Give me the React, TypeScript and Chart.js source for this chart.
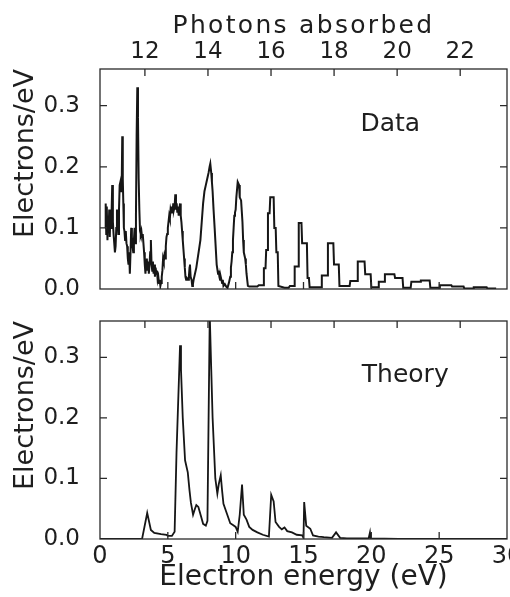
import React, { useEffect, useRef } from 'react';
import { Chart, registerables } from 'chart.js';

Chart.register(...registerables);

// ---- Data panel (measured spectrum) : electron energy (eV) / electrons per eV
const dataEnergy = [
  0.37, 0.42, 0.46, 0.5, 0.55, 0.6, 0.64, 0.68, 0.72, 0.77, 0.82, 0.86, 0.9, 0.95, 1.0, 1.05, 1.1, 1.15, 1.2, 1.25,
  1.3, 1.35, 1.4, 1.45, 1.5, 1.55, 1.6, 1.64, 1.68, 1.72, 1.76, 1.8, 1.85, 1.9, 1.95, 2.0, 2.05, 2.1, 2.15, 2.2,
  2.25, 2.3, 2.35, 2.4, 2.45, 2.5, 2.55, 2.6, 2.65, 2.7, 2.75, 2.8, 2.85, 2.9, 2.95, 3.0, 3.05, 3.1, 3.15, 3.2,
  3.25, 3.3, 3.35, 3.4, 3.45, 3.5, 3.55, 3.6, 3.65, 3.7, 3.75, 3.8, 3.85, 3.9, 3.95, 4.0, 4.05, 4.1, 4.15, 4.2,
  4.25, 4.3, 4.35, 4.4, 4.45, 4.5, 4.55, 4.6, 4.65, 4.7, 4.75, 4.8, 4.85, 4.9, 4.95, 5.0, 5.05, 5.1, 5.15, 5.2,
  5.25, 5.3, 5.35, 5.4, 5.45, 5.5, 5.55, 5.6, 5.65, 5.7, 5.75, 5.8, 5.85, 5.9, 5.95, 6.0, 6.05, 6.1, 6.15, 6.2,
  6.25, 6.3, 6.35, 6.4, 6.5, 6.55, 6.6, 6.63, 6.68, 6.75, 6.8, 6.85, 6.9, 7.0, 7.1, 7.2, 7.3, 7.4, 7.5, 7.6,
  7.7, 7.8, 7.9, 8.0, 8.08, 8.13, 8.2, 8.25, 8.3, 8.37, 8.45, 8.5, 8.6, 8.7, 8.75, 8.8, 8.85, 8.9, 9.0, 9.05,
  9.1, 9.2, 9.3, 9.4, 9.5, 9.6, 9.65, 9.7, 9.75, 9.8, 9.85, 9.9, 9.95, 10.0, 10.05, 10.15, 10.25, 10.3, 10.4, 10.5,
  10.55, 10.6, 10.7, 10.75, 10.8, 10.9, 11.0, 11.6, 11.7, 12.05, 12.08, 12.2, 12.25, 12.35, 12.38, 12.5, 12.55, 12.8, 12.85, 12.95,
  13.0, 13.1, 13.15, 13.6, 13.9, 14.0, 14.3, 14.35, 14.6, 14.65, 14.85, 14.9, 15.25, 15.3, 15.4, 15.45, 16.3, 16.35, 16.75, 16.8,
  17.2, 17.25, 17.6, 17.65, 18.4, 18.45, 18.95, 19.0, 19.5, 19.55, 19.95, 20.0, 20.5, 20.55, 20.95, 21.0, 21.7, 21.75, 22.3, 22.35,
  22.9, 22.95, 23.6, 23.65, 24.3, 24.35, 25.0, 25.05, 25.9, 25.95, 26.8, 26.85, 27.5, 27.55, 28.5, 28.55, 29.2,
];
const dataCounts = [
  0.10, 0.14, 0.09, 0.135, 0.08, 0.12, 0.10, 0.13, 0.085, 0.125, 0.10, 0.13, 0.17, 0.11, 0.09, 0.075, 0.06, 0.07, 0.10, 0.13,
  0.12, 0.09, 0.13, 0.17, 0.175, 0.16, 0.17, 0.25, 0.18, 0.14, 0.10, 0.095, 0.08, 0.095, 0.075, 0.07, 0.05, 0.04, 0.06, 0.025,
  0.06, 0.10, 0.085, 0.07, 0.06, 0.08, 0.10, 0.075, 0.12, 0.25, 0.33, 0.28, 0.18, 0.13, 0.095, 0.09, 0.095, 0.085, 0.09, 0.075,
  0.06, 0.04, 0.025, 0.045, 0.05, 0.03, 0.045, 0.025, 0.04, 0.06, 0.08, 0.04, 0.03, 0.045, 0.025, 0.04, 0.02, 0.035, 0.025, 0.03,
  0.015, 0.02, 0.01, 0.015, 0.005, 0.01, 0.02, 0.03, 0.05, 0.045, 0.055, 0.05, 0.07, 0.085, 0.09, 0.10, 0.11, 0.12, 0.115, 0.13,
  0.125, 0.135, 0.125, 0.14, 0.13, 0.135, 0.155, 0.13, 0.14, 0.125, 0.135, 0.12, 0.13, 0.14, 0.12, 0.11, 0.095, 0.08, 0.065, 0.05,
  0.035, 0.02, 0.015, 0.018, 0.015, 0.02, 0.035, 0.04, 0.02, 0.015, 0.005, 0.008, 0.015, 0.025, 0.035, 0.05, 0.065, 0.08, 0.11, 0.14,
  0.16, 0.17, 0.18, 0.19, 0.20, 0.205, 0.19, 0.175, 0.16, 0.13, 0.10, 0.08, 0.04, 0.025, 0.03, 0.02, 0.015, 0.02, 0.01, 0.015,
  0.005, 0.008, 0.004, 0.002, 0.01, 0.02, 0.035, 0.045, 0.06, 0.08, 0.10, 0.12, 0.125, 0.13, 0.15, 0.175, 0.17, 0.15, 0.145, 0.11,
  0.08, 0.06, 0.05, 0.04, 0.025, 0.005, 0.004, 0.004, 0.006, 0.006, 0.034, 0.034, 0.064, 0.064, 0.124, 0.124, 0.15, 0.15, 0.10, 0.10,
  0.06, 0.06, 0.005, 0.002, 0.002, 0.005, 0.005, 0.037, 0.037, 0.108, 0.108, 0.075, 0.075, 0.018, 0.018, 0.003, 0.003, 0.022, 0.022, 0.075,
  0.075, 0.04, 0.04, 0.005, 0.005, 0.013, 0.013, 0.045, 0.045, 0.024, 0.024, 0.003, 0.003, 0.012, 0.012, 0.024, 0.024, 0.018, 0.018, 0.002,
  0.002, 0.012, 0.012, 0.014, 0.014, 0.002, 0.002, 0.006, 0.006, 0.004, 0.004, 0.001, 0.001, 0.003, 0.003, 0.001, 0.001,
];

// ---- Theory panel
const theoryEnergy = [
  0, 3.1, 3.48, 3.75, 4.0, 4.5, 4.9, 5.0, 5.3, 5.5, 5.64, 5.9, 5.97, 6.1, 6.27, 6.47, 6.6, 6.7, 6.86, 7.0,
  7.1, 7.25, 7.45, 7.6, 7.8, 7.92, 8.09, 8.2, 8.3, 8.5, 8.65, 8.75, 8.9, 9.0, 9.1, 9.35, 9.6, 9.8, 10.0, 10.15,
  10.3, 10.47, 10.6, 10.8, 11.0, 11.25, 11.6, 12.0, 12.45, 12.62, 12.8, 12.94, 13.2, 13.4, 13.6, 13.8, 14.15, 14.5, 14.9, 15.0,
  15.05, 15.2, 15.5, 15.7, 16.1, 16.5, 17.1, 17.4, 17.7, 18.2, 19.8, 19.9, 19.95, 22, 30,
];
const theoryCounts = [
  0, 0, 0.043, 0.015, 0.01, 0.008, 0.007, 0.005, 0.005, 0.012, 0.143, 0.32, 0.28, 0.2, 0.13, 0.11, 0.08, 0.06, 0.04, 0.05,
  0.056, 0.053, 0.037, 0.025, 0.022, 0.03, 0.37, 0.28, 0.2, 0.1, 0.075, 0.09, 0.105, 0.08, 0.058, 0.042, 0.026, 0.023, 0.02, 0.012,
  0.04, 0.09, 0.04, 0.032, 0.02, 0.015, 0.011, 0.007, 0.004, 0.073, 0.062, 0.028, 0.02, 0.016, 0.019, 0.013, 0.011, 0.007, 0.006, 0.002,
  0.061, 0.022, 0.017, 0.006, 0.004, 0.003, 0.002, 0.011, 0.002, 0.001, 0.001, 0.011, 0.001, 0, 0,
];

// ---- Axes
const energyMin = 0;
const energyMax = 30;
const countMax = 0.36;
const photonEnergy = 2.324; // eV per photon (top axis spacing)
const energyAt12Photons = 3.31;
const photonMin = 12 - (energyAt12Photons - energyMin) / photonEnergy;
const photonMax = 12 + (energyMax - energyAt12Photons) / photonEnergy;

const FAMILY = "'DejaVu Sans', 'Liberation Sans', sans-serif";
const font = (size: number) => ({ family: FAMILY, size, weight: 'normal' as any });
const INK = '#161616';
const TEXT = '#1e1e1e';

function spacedTitle(scale: any, spacing: string) {
  if (scale.__spaced) return;
  const orig = scale.drawTitle;
  scale.drawTitle = function (...args: any[]) {
    const ctx = this.ctx;
    const prev = ctx.letterSpacing;
    ctx.letterSpacing = spacing;
    orig.apply(this, args);
    ctx.letterSpacing = prev;
  };
  scale.__spaced = true;
}

const framePlugin = {
  id: 'frame',
  afterDatasetsDraw(chart: any, _args: any, opts: any) {
    const { ctx, chartArea } = chart;
    const { left, right, top, bottom } = chartArea;
    const L = 7;
    ctx.save();
    ctx.strokeStyle = '#2a2a2a';
    ctx.lineWidth = 1.3;
    ctx.strokeRect(left, top, right - left, bottom - top);
    ctx.beginPath();
    const xs = chart.scales.x;
    const xt = chart.scales[opts.topScale];
    const ys = chart.scales.y;
    xs.ticks.forEach((t: any) => {
      const p = xs.getPixelForValue(t.value);
      if (p <= left + 1 || p >= right - 1) return;
      ctx.moveTo(p, bottom); ctx.lineTo(p, bottom - L);
    });
    xt.ticks.forEach((t: any) => {
      const p = xt.getPixelForValue(t.value);
      if (p <= left + 1 || p >= right - 1) return;
      ctx.moveTo(p, top); ctx.lineTo(p, top + L);
    });
    ys.ticks.forEach((t: any) => {
      const p = ys.getPixelForValue(t.value);
      if (p <= top + 1 || p >= bottom - 1) return;
      ctx.moveTo(left, p); ctx.lineTo(left + L, p);
      ctx.moveTo(right, p); ctx.lineTo(right - L, p);
    });
    ctx.stroke();
    // panel label
    ctx.fillStyle = TEXT;
    ctx.font = `normal 25px ${FAMILY}`;
    ctx.textAlign = 'center';
    ctx.textBaseline = 'middle';
    ctx.fillText(opts.label, xs.getPixelForValue(opts.labelX), ys.getPixelForValue(opts.labelY));
    ctx.restore();
  },
};

const noGrid = { display: false, drawTicks: false, tickLength: 0 };

function yScale() {
  return {
    type: 'linear',
    min: 0,
    max: countMax,
    ticks: {
      stepSize: 0.1,
      includeBounds: false,
      callback: (v: any) => Number(v).toFixed(1),
      font: font(23),
      color: TEXT,
      padding: 20,
    },
    grid: noGrid,
    border: { display: false },
    title: { display: true, text: 'Electrons/eV', align: 'end', font: font(27), color: TEXT, padding: { top: 10, bottom: 0 } },
    afterFit: (s: any) => { s.width = 100; s.paddingTop = 0; s.paddingBottom = 0; },
  };
}

function topConfig(): any {
  return {
    type: 'line',
    data: {
      datasets: [{
        data: dataEnergy.map((e, i) => ({ x: e, y: dataCounts[i] })),
        borderColor: INK, borderWidth: 2, pointRadius: 0, tension: 0,
      }],
    },
    options: {
      responsive: false,
      animation: false,
      layout: { padding: { left: 0, right: 23, top: 0, bottom: 0 } },
      plugins: {
        legend: { display: false },
        tooltip: { enabled: false },
        frame: { topScale: 'x2', label: 'Data', labelX: 21.4, labelY: 0.27 },
      },
      scales: {
        x: {
          type: 'linear', position: 'bottom', min: energyMin, max: energyMax,
          ticks: { display: false, stepSize: 5 },
          grid: noGrid, border: { display: false },
          afterFit: (s: any) => { s.height = 16; },
        },
        x2: {
          type: 'linear', position: 'top', min: photonMin, max: photonMax,
          ticks: { stepSize: 2, includeBounds: false, font: font(23), color: TEXT, padding: 3, maxRotation: 0 },
          grid: noGrid, border: { display: false },
          title: { display: true, text: 'Photons absorbed', font: font(25), color: TEXT, padding: { top: 11, bottom: 0 } },
          afterFit: (s: any) => { s.height = 69; spacedTitle(s, '2.3px'); },
        },
        y: yScale(),
      },
    },
    plugins: [framePlugin],
  };
}

function bottomConfig(): any {
  return {
    type: 'line',
    data: {
      datasets: [{
        data: theoryEnergy.map((e, i) => ({ x: e, y: theoryCounts[i] })),
        borderColor: INK, borderWidth: 1.8, pointRadius: 0, tension: 0,
      }],
    },
    options: {
      responsive: false,
      animation: false,
      layout: { padding: { left: 0, right: 23, top: 0, bottom: 0 } },
      plugins: {
        legend: { display: false },
        tooltip: { enabled: false },
        frame: { topScale: 'x2', label: 'Theory', labelX: 22.5, labelY: 0.27 },
      },
      scales: {
        x: {
          type: 'linear', position: 'bottom', min: energyMin, max: energyMax,
          ticks: { stepSize: 5, font: font(24), color: TEXT, padding: 3, maxRotation: 0 },
          grid: noGrid, border: { display: false },
          title: { display: true, text: 'Electron energy (eV)', font: font(28), color: TEXT, padding: { top: 0, bottom: 2 } },
          afterFit: (s: any) => { s.height = 58; },
        },
        x2: {
          type: 'linear', position: 'top', min: photonMin, max: photonMax,
          ticks: { display: false, stepSize: 2, includeBounds: false },
          grid: noGrid, border: { display: false },
          afterFit: (s: any) => { s.height = 16; },
        },
        y: yScale(),
      },
    },
    plugins: [framePlugin],
  };
}

export default function App() {
  const topRef = useRef<HTMLCanvasElement>(null);
  const botRef = useRef<HTMLCanvasElement>(null);
  useEffect(() => {
    document.body.style.margin = '0';
    const c1 = new Chart(topRef.current!, topConfig());
    const c2 = new Chart(botRef.current!, bottomConfig());
    return () => { c1.destroy(); c2.destroy(); };
  }, []);
  return (
    <div style={{ width: 510, height: 597, overflow: 'hidden', background: '#fff', position: 'relative' }}>
      <canvas ref={topRef} width={530} height={305} style={{ display: 'block' }} />
      <canvas ref={botRef} width={530} height={292} style={{ display: 'block' }} />
    </div>
  );
}
